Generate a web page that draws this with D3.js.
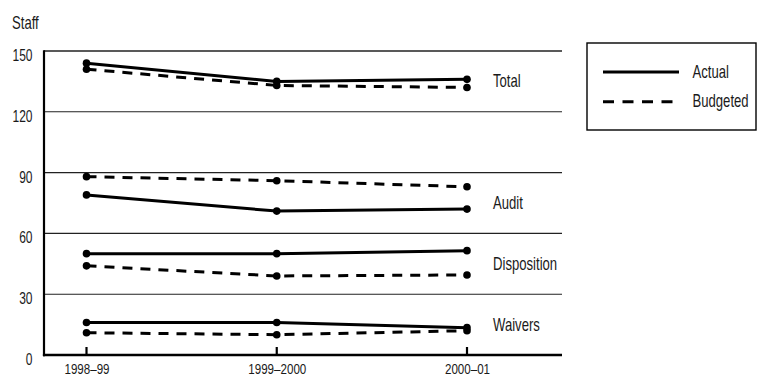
<!DOCTYPE html>
<html><head><meta charset="utf-8">
<script src="https://cdn.jsdelivr.net/npm/d3@7"></script>
<style>body{margin:0;background:#fff}svg{display:block}text{font-family:"Liberation Sans",Arial,sans-serif;fill:#1a1a1a}</style>
</head><body><svg id="c" width="758" height="377"></svg>
<script>
const years = ["1998–99", "1999–2000", "2000–01"];
const yTicks = [0, 30, 60, 90, 120, 150];
const groups = ["Total", "Audit", "Disposition", "Waivers"];
const totalActual = [144, 135, 136];
const totalBudgeted = [141, 133, 132];
const auditActual = [79, 71, 72];
const auditBudgeted = [88, 86, 83];
const dispositionActual = [50, 50, 51.5];
const dispositionBudgeted = [44, 39, 39.5];
const waiversActual = [16, 16, 13.5];
const waiversBudgeted = [11, 10, 12];
const labelAnchor = [132.4, 72, 41.7, 11.6];
const legendKeys = ["Actual", "Budgeted"];

const DASH = "10,8";
const series = [
  {v: totalActual, dash: null}, {v: totalBudgeted, dash: DASH},
  {v: auditActual, dash: null}, {v: auditBudgeted, dash: DASH},
  {v: dispositionActual, dash: null}, {v: dispositionBudgeted, dash: DASH},
  {v: waiversActual, dash: null}, {v: waiversBudgeted, dash: DASH}
];

const SX = 0.75;
function narrow(sel) {
  sel.each(function () {
    const t = d3.select(this);
    const x = +t.attr("x") || 0, y = +t.attr("y") || 0;
    t.attr("transform", `translate(${x},${y}) scale(${SX},1)`).attr("x", 0).attr("y", 0);
  });
}

const svg = d3.select("#c");
const L = 44, R = 562, T = 51, B = 355;
const x = d3.scalePoint().domain(years).range([86.5, 467]);
const y = d3.scaleLinear().domain([0, 150]).range([B, T]);

// gridlines
svg.append("g").selectAll("line").data(yTicks.filter(d => d > 0)).join("line")
  .attr("x1", L).attr("x2", R).attr("y1", d => y(d)).attr("y2", d => y(d))
  .attr("stroke", "#222").attr("stroke-width", d => d === 150 ? 1.4 : 1.1);

// y axis
const ya = svg.append("g").attr("transform", `translate(${L},0)`)
  .call(d3.axisLeft(y).tickValues(yTicks).tickSize(0).tickPadding(11.5));
ya.select(".domain").remove();
ya.selectAll("text").attr("font-size", 16).attr("dy", 9.5);
narrow(ya.selectAll("text"));
svg.append("line").attr("x1", L).attr("x2", L).attr("y1", T - 0.7).attr("y2", B + 1.3)
  .attr("stroke", "#000").attr("stroke-width", 2.2);

// x axis
const xa = svg.append("g").attr("transform", `translate(0,${B})`)
  .call(d3.axisBottom(x).tickSize(0).tickPadding(19));
xa.select(".domain").remove();
xa.selectAll("text").attr("font-size", 14.5).attr("dy", 0);
xa.selectAll("text").each(function () {
  const t = d3.select(this);
  t.attr("transform", `translate(0,${+t.attr("y")}) scale(0.8,1)`).attr("y", 0);
});
svg.append("line").attr("x1", L - 1.1).attr("x2", R).attr("y1", B).attr("y2", B)
  .attr("stroke", "#000").attr("stroke-width", 2.6);
svg.append("g").selectAll("line").data(years).join("line")
  .attr("x1", d => x(d)).attr("x2", d => x(d)).attr("y1", B).attr("y2", B - 8)
  .attr("stroke", "#000").attr("stroke-width", 2.2);

narrow(svg.append("text").attr("x", 12).attr("y", 29).attr("font-size", 17.5).text("Staff"));

// series
const line = d3.line().x((d, i) => x(years[i])).y(d => y(d));
series.forEach(s => {
  svg.append("path").attr("d", line(s.v)).attr("fill", "none").attr("stroke", "#000")
    .attr("stroke-width", 3).attr("stroke-dasharray", s.dash);
  svg.append("g").selectAll("circle").data(s.v).join("circle")
    .attr("cx", (d, i) => x(years[i])).attr("cy", d => y(d)).attr("r", 3.8).attr("fill", "#000");
});

// group labels
narrow(svg.append("g").selectAll("text").data(groups).join("text")
  .attr("x", 493).attr("y", (d, i) => y(labelAnchor[i])).attr("font-size", 17.5).text(d => d));

// legend
svg.append("rect").attr("x", 587).attr("y", 43).attr("width", 169).attr("height", 87)
  .attr("fill", "#fff").attr("stroke", "#000").attr("stroke-width", 1.4);
legendKeys.forEach((k, i) => {
  const yy = 72 + i * 29.7;
  svg.append("line").attr("x1", 603).attr("x2", 679).attr("y1", yy).attr("y2", yy)
    .attr("stroke", "#000").attr("stroke-width", 3).attr("stroke-dasharray", i ? "11,8.5" : null);
  narrow(svg.append("text").attr("x", 692.5).attr("y", yy + 5.5).attr("font-size", 17.5).text(k));
});
</script></body></html>
